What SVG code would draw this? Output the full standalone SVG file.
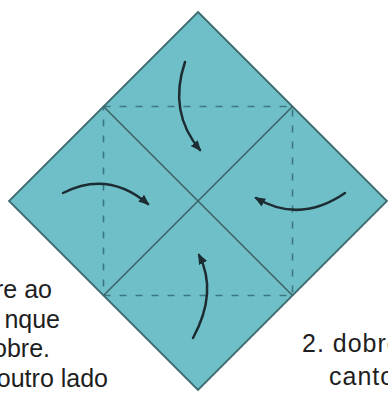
<svg xmlns="http://www.w3.org/2000/svg" width="388" height="393" viewBox="0 0 388 393">
  <style>
    .paper { fill: #6fbfc8; stroke: #3d6b70; stroke-width: 1.8; }
    .crease { fill: none; stroke: #3c7780; stroke-width: 1.6; stroke-dasharray: 7 9; }
    .fold { fill: none; stroke: #3d6468; stroke-width: 1.6; }
    .arrow { fill: none; stroke: #1c2c32; stroke-width: 2.5; stroke-linecap: round; marker-end: url(#head); }
    .lbl { font-family: "Liberation Sans", Arial, sans-serif; font-size: 25px; fill: #1e1e1e; }
    .wide { letter-spacing: 1px; }
  </style>
  <defs>
    <marker id="head" markerUnits="userSpaceOnUse" markerWidth="12" markerHeight="10" refX="9" refY="4.5" orient="auto">
      <path d="M0,0 L11,4.5 L0,9 Z" fill="#1c2c32"/>
    </marker>
  </defs>
  <rect width="388" height="393" fill="#ffffff"/>
  <g id="paper">
    <polygon class="paper" points="198,12 387,201 198,390 9,201"/>
  </g>
  <g id="creases">
    <rect class="crease" x="103.5" y="106.5" width="189" height="189"/>
  </g>
  <g id="folds">
    <line class="fold" x1="103.5" y1="106.5" x2="292.5" y2="295.5"/>
    <line class="fold" x1="292.5" y1="106.5" x2="103.5" y2="295.5"/>
  </g>
  <g id="connectors">
    <path class="arrow" d="M185,62 Q168,112 200,150"/>
    <path class="arrow" d="M193,338 Q218,292 199,255"/>
    <path class="arrow" d="M63,193 Q108,170 148,204"/>
    <path class="arrow" d="M345,193 Q300,224 256,198"/>
  </g>
  <g id="text-left">
    <text class="lbl" x="52" y="298" text-anchor="end">re ao</text>
    <text class="lbl" x="60" y="328" text-anchor="end">nque</text>
    <text class="lbl" x="50" y="357" text-anchor="end">obre.</text>
    <text class="lbl" x="108" y="387" text-anchor="end">outro lado</text>
  </g>
  <g id="text-right">
    <text class="lbl wide" x="302" y="352">2. dobre</text>
    <text class="lbl wide" x="329" y="385">canto</text>
  </g>
</svg>
